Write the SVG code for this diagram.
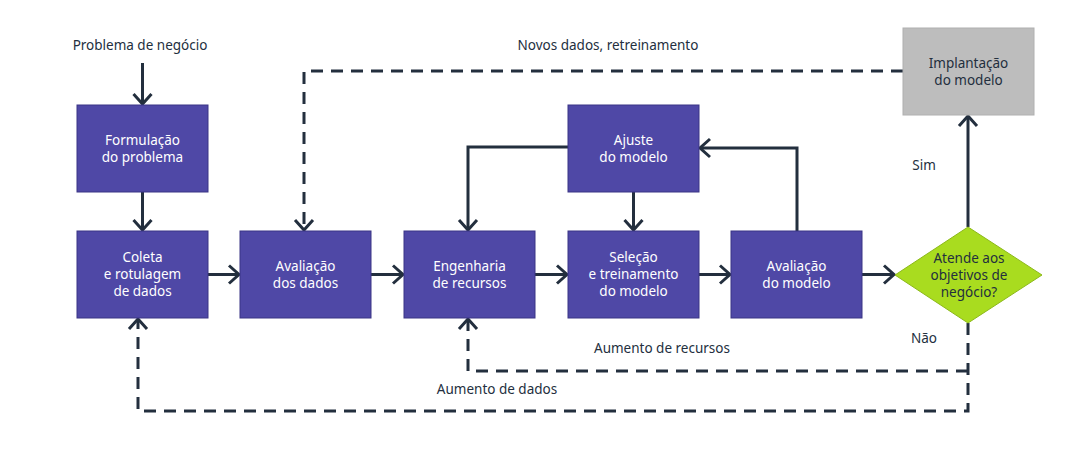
<svg xmlns="http://www.w3.org/2000/svg" width="1076" height="458" viewBox="0 0 1076 458">
<style>
.box{fill:#4f48a6;stroke:#3a3485;stroke-width:1}
.gray{fill:#bdbdbd;stroke:#b0b0b0;stroke-width:1}
.dia{fill:#a9dc1f;stroke:#8cb81a;stroke-width:1}
.wt{font-family:"Noto Sans","Open Sans",sans-serif;font-size:13.5px;fill:#ffffff;text-anchor:middle}
.dt{font-family:"Noto Sans","Open Sans",sans-serif;font-size:13.5px;fill:#232f3e;text-anchor:middle}
.ln{fill:none;stroke:#232f3e;stroke-width:3;marker-end:url(#ah)}
.dash{stroke-dasharray:12 8}
</style>
<defs>
<marker id="ah" markerUnits="userSpaceOnUse" markerWidth="16" markerHeight="24" refX="12" refY="11" orient="auto">
<path d="M2,2 L12,11 L2,20" fill="none" stroke="#232f3e" stroke-width="3"/>
</marker>
</defs>
<g id="connectors">
<path class="ln" d="M142.5,63 V104"/>
<path class="ln" d="M142.5,192 V230"/>
<path class="ln" d="M208,274.5 H239"/>
<path class="ln" d="M371,274.5 H403"/>
<path class="ln" d="M535,274.5 H567"/>
<path class="ln" d="M699,274.5 H730"/>
<path class="ln" d="M862,274.5 H894"/>
<path class="ln" d="M633.5,192 V230"/>
<path class="ln" d="M568,147 H468 V230"/>
<path class="ln" d="M797,231 V148 H700"/>
<path class="ln" d="M968,227 V116"/>
<path class="ln dash" d="M903,71 H304 V230"/>
<path class="ln dash" d="M968,323 V411 H138 V319"/>
<path class="ln dash" d="M968,371 H468 V319"/>
</g>
<g id="labels">
<text class="dt" x="140" y="50">Problema de negócio</text>
<text class="dt" x="608" y="50">Novos dados, retreinamento</text>
<text class="dt" x="924" y="170">Sim</text>
<text class="dt" x="924" y="343">Não</text>
<text class="dt" x="662" y="353">Aumento de recursos</text>
<text class="dt" x="497" y="394">Aumento de dados</text>
</g>
<g id="formulacao">
<rect class="box" x="77" y="105" width="131" height="87"/>
<text class="wt" x="142.5" y="144.5">Formulação</text>
<text class="wt" x="142.5" y="161.5">do problema</text>
</g>
<g id="coleta">
<rect class="box" x="77" y="231" width="131" height="87"/>
<text class="wt" x="142.5" y="262">Coleta</text>
<text class="wt" x="142.5" y="279">e rotulagem</text>
<text class="wt" x="142.5" y="296">de dados</text>
</g>
<g id="avaliacao-dados">
<rect class="box" x="240" y="231" width="131" height="87"/>
<text class="wt" x="305.5" y="271">Avaliação</text>
<text class="wt" x="305.5" y="288">dos dados</text>
</g>
<g id="engenharia">
<rect class="box" x="404" y="231" width="131" height="87"/>
<text class="wt" x="469.5" y="271">Engenharia</text>
<text class="wt" x="469.5" y="288">de recursos</text>
</g>
<g id="ajuste">
<rect class="box" x="568" y="105" width="131" height="87"/>
<text class="wt" x="633.5" y="145">Ajuste</text>
<text class="wt" x="633.5" y="162">do modelo</text>
</g>
<g id="selecao">
<rect class="box" x="568" y="231" width="131" height="87"/>
<text class="wt" x="633.5" y="262">Seleção</text>
<text class="wt" x="633.5" y="279">e treinamento</text>
<text class="wt" x="633.5" y="296">do modelo</text>
</g>
<g id="avaliacao-modelo">
<rect class="box" x="731" y="231" width="131" height="87"/>
<text class="wt" x="796.5" y="271">Avaliação</text>
<text class="wt" x="796.5" y="288">do modelo</text>
</g>
<g id="decisao">
<polygon class="dia" points="968,227 1042,275 968,323 895,275"/>
<text class="dt" x="969" y="263">Atende aos</text>
<text class="dt" x="969" y="280">objetivos de</text>
<text class="dt" x="969" y="297">negócio?</text>
</g>
<g id="implantacao">
<rect class="gray" x="903" y="28" width="131" height="87"/>
<text class="dt" x="968.5" y="68">Implantação</text>
<text class="dt" x="968.5" y="85">do modelo</text>
</g>
</svg>
